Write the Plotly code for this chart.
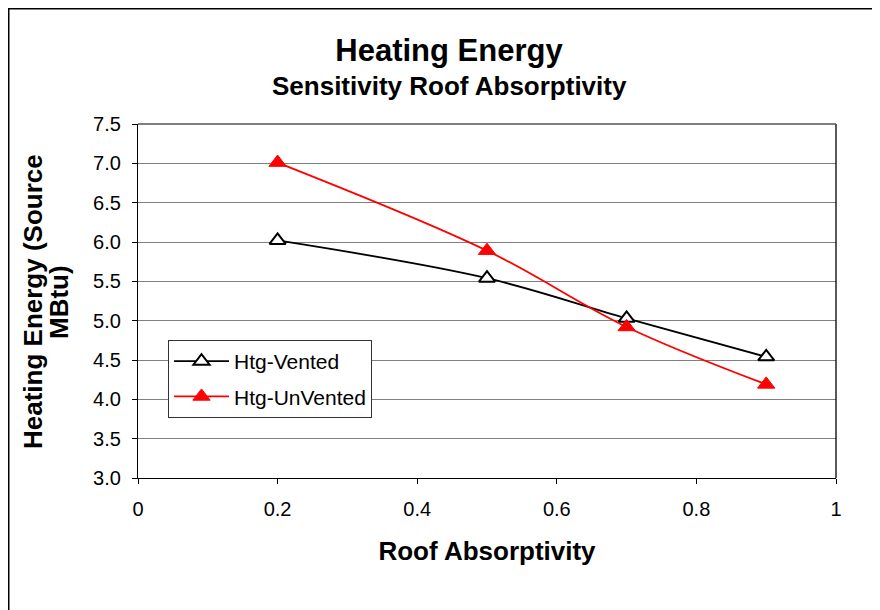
import plotly.graph_objects as go

absorptivity = [0.2, 0.5, 0.7, 0.9]
htg_vented = [6.02, 5.54, 5.03, 4.54]
htg_unvented = [7.01, 5.89, 4.92, 4.19]

x_ticks = [0, 0.2, 0.4, 0.6, 0.8, 1.0]
x_tick_labels = ["0", "0.2", "0.4", "0.6", "0.8", "1"]
y_ticks = [3.0, 3.5, 4.0, 4.5, 5.0, 5.5, 6.0, 6.5, 7.0, 7.5]
y_tick_labels = ["%.1f" % v for v in y_ticks]

W, H = 880, 610
L, R, T, B = 130, 52, 116, 140
pw, ph = W - L - R, H - T - B

def px(xp):
    return (xp - L) / pw

def py(yp):
    return (H - B - yp) / ph

FONT = "Liberation Sans, Arial, sans-serif"

fig = go.Figure()
fig.add_trace(go.Scatter(
    x=absorptivity, y=htg_vented, name="Htg-Vented", mode="lines+markers",
    line=dict(color="black", width=1.8, shape="spline", smoothing=1.0),
    marker=dict(symbol="triangle-up", size=14, color="white",
                line=dict(color="black", width=2)),
    legendgroup="a",
))
fig.add_trace(go.Scatter(
    x=absorptivity, y=htg_unvented, name="Htg-UnVented", mode="lines+markers",
    line=dict(color="#ff0000", width=1.8, shape="spline", smoothing=1.0),
    marker=dict(symbol="triangle-up", size=15, color="#ff0000",
                line=dict(color="#ff0000", width=1)),
    legendgroup="b",
))

fig.update_layout(
    width=W, height=H,
    margin=dict(l=L, r=R, t=T, b=B, pad=0),
    paper_bgcolor="white", plot_bgcolor="white",
    font=dict(family=FONT, color="black", size=20),
    showlegend=True,
    legend=dict(
        x=px(160), y=py(332), xanchor="left", yanchor="top",
        bgcolor="white", bordercolor="#333333", borderwidth=1,
        font=dict(size=21, family=FONT), itemwidth=55,
        tracegroupgap=5, traceorder="grouped",
    ),
    title=dict(
        text="<b>Heating Energy</b>", x=441 / W, xanchor="center",
        y=1 - 42 / H, yanchor="middle", xref="container", yref="container",
        font=dict(size=31, family=FONT, color="black"),
    ),
    xaxis=dict(
        range=[0, 1], tickvals=x_ticks, ticktext=x_tick_labels,
        showgrid=False, zeroline=False, showline=True, linecolor="black",
        linewidth=1.3, ticks="outside", ticklen=5, tickcolor="black",
        ticklabelstandoff=8, tickfont=dict(size=20),
        title=dict(text="<b>Roof Absorptivity</b>", font=dict(size=26), standoff=22),
    ),
    yaxis=dict(
        range=[3.0, 7.5], tickvals=y_ticks, ticktext=y_tick_labels,
        showgrid=True, gridcolor="#808080", gridwidth=1.2, zeroline=False,
        showline=True, linecolor="black", linewidth=1.3, ticks="outside",
        ticklen=5, tickcolor="black", ticklabelstandoff=7,
        tickfont=dict(size=20),
    ),
    annotations=[
        dict(text="<b>Sensitivity Roof Absorptivity</b>", xref="paper", yref="paper",
             x=px(441), y=py(78), xanchor="center", yanchor="middle",
             showarrow=False, font=dict(size=26, family=FONT, color="black")),
        dict(text="<b>Heating Energy (Source</b>", xref="paper", yref="paper",
             x=px(25), y=py(294), xanchor="center", yanchor="middle", textangle=-90,
             showarrow=False, font=dict(size=26, family=FONT, color="black")),
        dict(text="<b>MBtu)</b>", xref="paper", yref="paper",
             x=px(51), y=py(294), xanchor="center", yanchor="middle", textangle=-90,
             showarrow=False, font=dict(size=26, family=FONT, color="black")),
    ],
    shapes=[
        dict(type="rect", xref="paper", yref="paper",
             x0=px(0.75), x1=px(W - 0.75), y0=py(H - 0.75), y1=py(0.75),
             line=dict(color="black", width=1.5), layer="below"),
        dict(type="line", xref="paper", yref="paper",
             x0=1, x1=1, y0=0, y1=1, line=dict(color="black", width=1.3)),
        dict(type="line", xref="paper", yref="paper",
             x0=0, x1=1, y0=1, y1=1, line=dict(color="#555555", width=1.5)),
    ],
)

fig.write_html("out.html")
